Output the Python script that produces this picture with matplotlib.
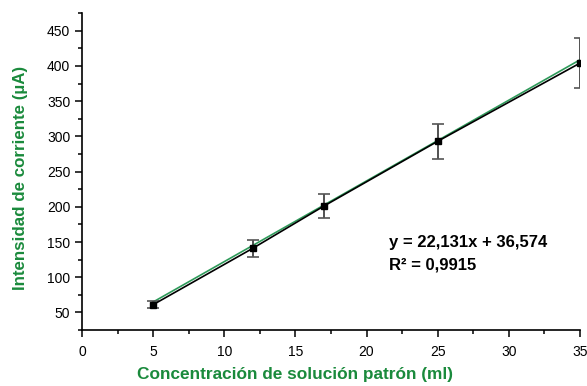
import matplotlib.pyplot as plt
import numpy as np
from matplotlib.ticker import MultipleLocator

# Data
conc = [5, 12, 17, 25, 35]
current = [61, 141, 201, 293, 404]
err = [5, 12, 17, 25, 35]
eq_text = 'y = 22,131x + 36,574\nR² = 0,9915'

green = '#1a8a3c'

plt.rcParams['font.family'] = ['Liberation Sans', 'DejaVu Sans']

fig = plt.figure(figsize=(5.87, 3.86), dpi=100)
ax = fig.add_axes([0.1397, 0.145, 0.8483, 0.821])

# linear fit (green trend line)
coef = np.polyfit(conc, current, 1)
xfit = np.array([conc[0], conc[-1]])
ax.plot(xfit, np.polyval(coef, xfit) + 3, color='#2e9a5a', lw=1.2, zorder=2)

# data with error bars (caps drawn as lines so they clip at the axes edge)
x = np.array(conc)
y = np.array(current)
e = np.array(err)
ax.errorbar(x, y, yerr=e, color='black', lw=1.2, marker='s', ms=5,
            ecolor='#333333', elinewidth=1.2, capsize=0, zorder=3)
ax.hlines(np.concatenate([y - e, y + e]), np.concatenate([x, x]) - 0.42,
          np.concatenate([x, x]) + 0.42, color='#555555', lw=1.2, zorder=3)

ax.set_xlim(0, 35)
ax.set_ylim(25, 475)
ax.xaxis.set_major_locator(MultipleLocator(5))
ax.xaxis.set_minor_locator(MultipleLocator(2.5))
ax.yaxis.set_major_locator(MultipleLocator(50))
ax.yaxis.set_minor_locator(MultipleLocator(25))
ax.set_yticks(np.arange(50, 451, 50))

for s in ['top', 'right']:
    ax.spines[s].set_visible(False)
for s in ['left', 'bottom']:
    ax.spines[s].set_linewidth(1.2)
ax.tick_params(which='major', length=5, width=1.1, labelsize=10)
ax.tick_params(which='minor', length=3, width=1.1)
ax.tick_params(axis='x', pad=6)

ax.set_xlabel('Concentración de solución patrón (ml)', color=green,
              fontsize=12.4, fontweight='bold')
ax.xaxis.set_label_coords(0.428, -0.118)
ax.set_ylabel('Intensidad de corriente (µA)', color=green,
              fontsize=12.2, fontweight='bold')
ax.yaxis.set_label_coords(-0.108, 0.479)

ax.text(21.6, 160, eq_text, fontsize=12, fontweight='bold',
        va='top', ha='left', linespacing=1.6)

fig.savefig('out.png', dpi=100)
